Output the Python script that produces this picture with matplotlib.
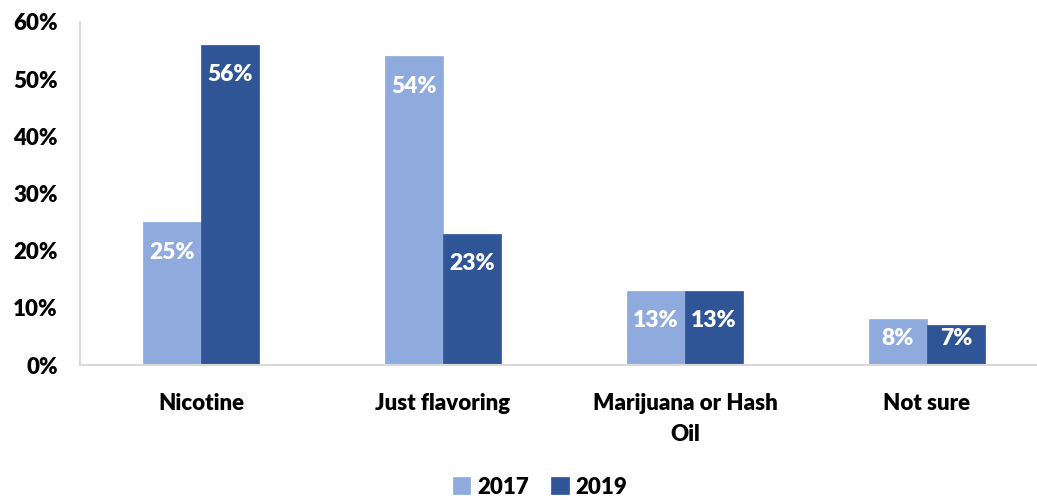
import numpy as np
import matplotlib
matplotlib.use("Agg")
from matplotlib import pyplot as plt

categories = ["Nicotine", "Just flavoring", "Marijuana or Hash\nOil", "Not sure"]
years = ["2017", "2019"]
values_2017 = [25, 54, 13, 8]
values_2019 = [56, 23, 13, 7]
colors = ["#8FAADC", "#2F5597"]
y_ticks = [0, 10, 20, 30, 40, 50, 60]

plt.rcParams['font.family'] = ['Lato', 'DejaVu Sans']

fig = plt.figure(figsize=(10.37, 5.0), dpi=100)
# axes box in pixels: left 80, right 1037, bottom 365 (from top), top 22
ax = fig.add_axes([80 / 1037, 1 - 365 / 500, (1037 - 80) / 1037, (365 - 22) / 500])

x = np.arange(len(categories))
w = 0.24
bars = []
for i, (vals, col, yr) in enumerate(zip([values_2017, values_2019], colors, years)):
    b = ax.bar(x + (i - 0.5) * w, vals, width=w, color=col, label=yr,
               edgecolor=col, linewidth=0.5)
    bars.append(b)
    for xi, v in zip(x + (i - 0.5) * w, vals):
        # label near top of bar, kept inside small bars
        ax.text(xi, max(v - 5.25, 4.7), f"{v}%", ha='center', va='center',
                color='white', fontsize=16.5, fontweight='heavy')

ax.set_xlim(-0.5, 3.455)
ax.set_ylim(0, 60)
ax.set_yticks(y_ticks)
ax.set_yticklabels([f"{t}%" for t in y_ticks], fontsize=16, fontweight='heavy')
ax.set_xticks(x)
ax.set_xticklabels(categories, fontsize=16, fontweight='heavy', linespacing=1.6)
ax.tick_params(axis='both', length=0)
ax.tick_params(axis='y', pad=16)
ax.tick_params(axis='x', pad=20)

for s in ['top', 'right']:
    ax.spines[s].set_visible(False)
for s in ['left', 'bottom']:
    ax.spines[s].set_color('#D9D9D9')
    ax.spines[s].set_linewidth(1.5)

leg = fig.legend(handles=bars, labels=years, loc='center', bbox_to_anchor=(540 / 1037, 1 - 487 / 500),
                 ncol=2, frameon=False, handlelength=0.8, handleheight=0.8, handletextpad=0.3,
                 columnspacing=1.0, prop={'size': 16, 'weight': 'heavy'})

fig.savefig("out.png", dpi=100)
